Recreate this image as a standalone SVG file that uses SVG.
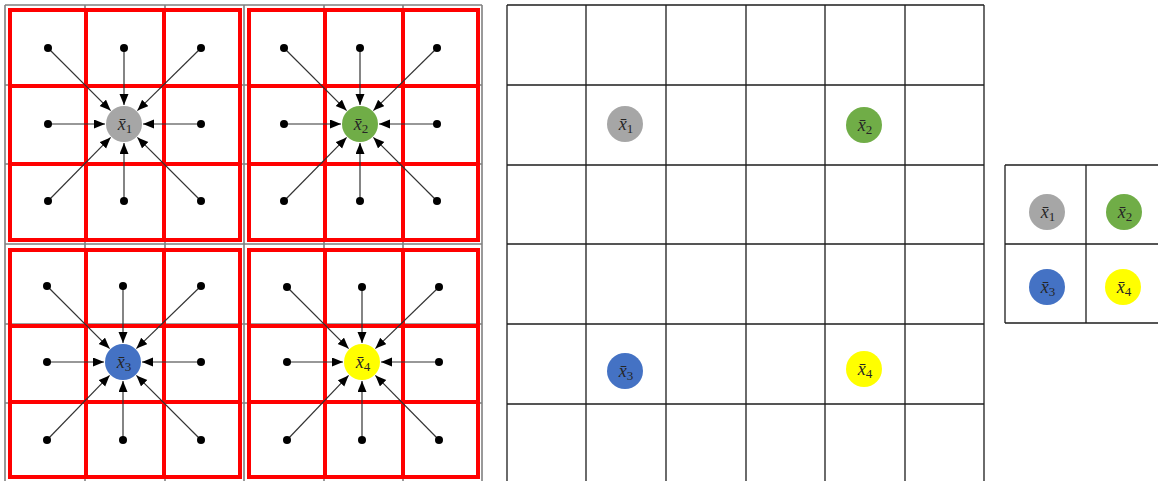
<svg xmlns="http://www.w3.org/2000/svg" width="1158" height="481" viewBox="0 0 1158 481">
<style>
.bg{fill:#ffffff}
.gg{stroke:#808080;stroke-width:1.6;fill:none}
.red{stroke:#ff0000;stroke-width:4;fill:none}
.grid{stroke:#1e1e1e;stroke-width:1.3;fill:none}
.dot{fill:#000000}
.arr{stroke:#333333;stroke-width:1.2;fill:none;marker-end:url(#ah)}
.lbl{font-family:"Liberation Serif","DejaVu Serif",serif;font-style:italic;font-size:18px;fill:#262626;text-anchor:middle}
.sub{font-style:normal;font-size:13px}
.c1{fill:#a6a6a6}.c2{fill:#70ad47}.c3{fill:#4472c4}.c4{fill:#ffff00}
</style>
<defs>
<marker id="ah" markerUnits="userSpaceOnUse" markerWidth="12" markerHeight="10" refX="11" refY="4.5" orient="auto">
<path d="M0,0 L11,4.5 L0,9 z" fill="#000000"/>
</marker>
</defs>
<rect class="bg" x="0" y="0" width="1158" height="481"/>

<g id="left-panel">
<path class="gg" d="M5,5V483M85,5V483M165,5V483M244,5V483M324,5V483M403,5V483M482,5V483M5,5H482M5,85H482M5,164H482M5,244H482M5,324H482M5,403H482"/>
<g id="red-squares">
<rect class="red" x="10" y="10" width="230" height="230"/>
<path class="red" d="M86,10V240M164,10V240M10,86H240M10,164H240"/>
<rect class="red" x="249" y="10" width="229" height="230"/>
<path class="red" d="M325,10V240M403,10V240M249,86H478M249,164H478"/>
<rect class="red" x="10" y="250" width="230" height="227"/>
<path class="red" d="M86,250V477M164,250V477M10,326H240M10,402H240"/>
<rect class="red" x="249" y="250" width="229" height="227"/>
<path class="red" d="M325,250V477M403,250V477M249,326H478M249,402H478"/>
</g>
</g>

<g id="connectors">
<line class="arr" x1="48" y1="48" x2="110.6" y2="110.6"/>
<line class="arr" x1="124" y1="48" x2="124" y2="105"/>
<line class="arr" x1="201" y1="48" x2="137.4" y2="110.6"/>
<line class="arr" x1="48" y1="124" x2="105" y2="124"/>
<line class="arr" x1="201" y1="124" x2="143" y2="124"/>
<line class="arr" x1="48" y1="201" x2="110.6" y2="137.4"/>
<line class="arr" x1="124" y1="201" x2="124" y2="143"/>
<line class="arr" x1="201" y1="201" x2="137.4" y2="137.4"/>

<line class="arr" x1="284" y1="48" x2="346.6" y2="110.6"/>
<line class="arr" x1="360" y1="48" x2="360" y2="105"/>
<line class="arr" x1="437" y1="48" x2="373.4" y2="110.6"/>
<line class="arr" x1="284" y1="124" x2="341" y2="124"/>
<line class="arr" x1="437" y1="124" x2="379" y2="124"/>
<line class="arr" x1="284" y1="201" x2="346.6" y2="137.4"/>
<line class="arr" x1="360" y1="201" x2="360" y2="143"/>
<line class="arr" x1="437" y1="201" x2="373.4" y2="137.4"/>

<line class="arr" x1="47" y1="286" x2="109.6" y2="348.6"/>
<line class="arr" x1="123" y1="286" x2="123" y2="343"/>
<line class="arr" x1="201" y1="286" x2="136.4" y2="348.6"/>
<line class="arr" x1="47" y1="362" x2="104" y2="362"/>
<line class="arr" x1="201" y1="362" x2="142" y2="362"/>
<line class="arr" x1="47" y1="440" x2="109.6" y2="375.4"/>
<line class="arr" x1="123" y1="440" x2="123" y2="381"/>
<line class="arr" x1="201" y1="440" x2="136.4" y2="375.4"/>

<line class="arr" x1="287" y1="287" x2="348.6" y2="348.6"/>
<line class="arr" x1="362" y1="287" x2="362" y2="343"/>
<line class="arr" x1="439" y1="287" x2="375.4" y2="348.6"/>
<line class="arr" x1="287" y1="362" x2="343" y2="362"/>
<line class="arr" x1="439" y1="362" x2="381" y2="362"/>
<line class="arr" x1="287" y1="440" x2="348.6" y2="375.4"/>
<line class="arr" x1="362" y1="440" x2="362" y2="381"/>
<line class="arr" x1="439" y1="440" x2="375.4" y2="375.4"/>
</g>

<g id="dots">
<circle class="dot" cx="48" cy="48" r="4"/><circle class="dot" cx="124" cy="48" r="4"/><circle class="dot" cx="201" cy="48" r="4"/>
<circle class="dot" cx="48" cy="124" r="4"/><circle class="dot" cx="201" cy="124" r="4"/>
<circle class="dot" cx="48" cy="201" r="4"/><circle class="dot" cx="124" cy="201" r="4"/><circle class="dot" cx="201" cy="201" r="4"/>
<circle class="dot" cx="284" cy="48" r="4"/><circle class="dot" cx="360" cy="48" r="4"/><circle class="dot" cx="437" cy="48" r="4"/>
<circle class="dot" cx="284" cy="124" r="4"/><circle class="dot" cx="437" cy="124" r="4"/>
<circle class="dot" cx="284" cy="201" r="4"/><circle class="dot" cx="360" cy="201" r="4"/><circle class="dot" cx="437" cy="201" r="4"/>
<circle class="dot" cx="47" cy="286" r="4"/><circle class="dot" cx="123" cy="286" r="4"/><circle class="dot" cx="201" cy="286" r="4"/>
<circle class="dot" cx="47" cy="362" r="4"/><circle class="dot" cx="201" cy="362" r="4"/>
<circle class="dot" cx="47" cy="440" r="4"/><circle class="dot" cx="123" cy="440" r="4"/><circle class="dot" cx="201" cy="440" r="4"/>
<circle class="dot" cx="287" cy="287" r="4"/><circle class="dot" cx="362" cy="287" r="4"/><circle class="dot" cx="439" cy="287" r="4"/>
<circle class="dot" cx="287" cy="362" r="4"/><circle class="dot" cx="439" cy="362" r="4"/>
<circle class="dot" cx="287" cy="440" r="4"/><circle class="dot" cx="362" cy="440" r="4"/><circle class="dot" cx="439" cy="440" r="4"/>
</g>

<g id="node-left-x1"><circle class="c1" cx="124" cy="124" r="18"/><text class="lbl" x="125" y="130">x̄<tspan class="sub" dy="2.5">1</tspan></text></g>
<g id="node-left-x2"><circle class="c2" cx="360" cy="124" r="18"/><text class="lbl" x="361" y="130">x̄<tspan class="sub" dy="2.5">2</tspan></text></g>
<g id="node-left-x3"><circle class="c3" cx="123" cy="362" r="18"/><text class="lbl" x="124" y="368">x̄<tspan class="sub" dy="2.5">3</tspan></text></g>
<g id="node-left-x4"><circle class="c4" cx="362" cy="362" r="18"/><text class="lbl" x="363" y="368">x̄<tspan class="sub" dy="2.5">4</tspan></text></g>

<g id="middle-panel">
<path class="grid" d="M507,5V483M586,5V483M666,5V483M746,5V483M825,5V483M905,5V483M984,5V483M507,5H984M507,85H984M507,165H984M507,244H984M507,324H984M507,404H984"/>
</g>
<g id="node-mid-x1"><circle class="c1" cx="625" cy="124" r="18"/><text class="lbl" x="626" y="130">x̄<tspan class="sub" dy="2.5">1</tspan></text></g>
<g id="node-mid-x2"><circle class="c2" cx="864" cy="125" r="18"/><text class="lbl" x="865" y="131">x̄<tspan class="sub" dy="2.5">2</tspan></text></g>
<g id="node-mid-x3"><circle class="c3" cx="625" cy="371" r="18"/><text class="lbl" x="626" y="377">x̄<tspan class="sub" dy="2.5">3</tspan></text></g>
<g id="node-mid-x4"><circle class="c4" cx="864" cy="369" r="18"/><text class="lbl" x="865" y="375">x̄<tspan class="sub" dy="2.5">4</tspan></text></g>

<g id="right-panel">
<path class="grid" d="M1005,165V323M1086,165V323M1005,165H1160M1005,244H1160M1005,323H1160"/>
</g>
<g id="node-right-x1"><circle class="c1" cx="1047" cy="212" r="18"/><text class="lbl" x="1048" y="218">x̄<tspan class="sub" dy="2.5">1</tspan></text></g>
<g id="node-right-x2"><circle class="c2" cx="1124" cy="212" r="18"/><text class="lbl" x="1125" y="218">x̄<tspan class="sub" dy="2.5">2</tspan></text></g>
<g id="node-right-x3"><circle class="c3" cx="1047" cy="287" r="18"/><text class="lbl" x="1048" y="293">x̄<tspan class="sub" dy="2.5">3</tspan></text></g>
<g id="node-right-x4"><circle class="c4" cx="1123" cy="287" r="18"/><text class="lbl" x="1124" y="293">x̄<tspan class="sub" dy="2.5">4</tspan></text></g>
</svg>
